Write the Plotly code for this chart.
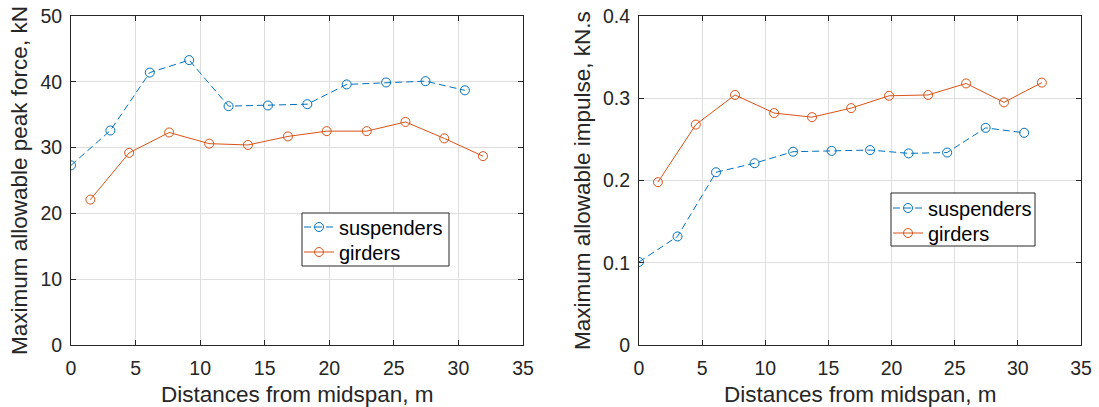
import plotly.graph_objects as go

# Distances from midspan (m) for each member group
dist_suspenders = [0, 3.05, 6.1, 9.15, 12.2, 15.25, 18.3, 21.35, 24.4, 27.45, 30.5]
dist_girders = [1.5, 4.5, 7.6, 10.7, 13.7, 16.8, 19.8, 22.9, 25.9, 28.9, 31.9]

# Maximum allowable peak force, kN
force_suspenders = [27.3, 32.6, 41.4, 43.3, 36.3, 36.4, 36.6, 39.6, 39.9, 40.1, 38.7]
force_girders = [22.1, 29.2, 32.3, 30.6, 30.4, 31.7, 32.5, 32.5, 33.9, 31.4, 28.7]

# Maximum allowable impulse, kN.s
impulse_suspenders = [0.101, 0.132, 0.210, 0.221, 0.235, 0.236, 0.237, 0.233, 0.234, 0.264, 0.258]
impulse_girders = [0.198, 0.268, 0.304, 0.282, 0.277, 0.288, 0.303, 0.304, 0.318, 0.295, 0.319]

x_ticks = [0, 5, 10, 15, 20, 25, 30, 35]
force_ticks = [0, 10, 20, 30, 40, 50]
impulse_ticks = [0, 0.1, 0.2, 0.3, 0.4]

BLUE = "#0072BD"
ORANGE = "#D95319"
AXIS = "#262626"
GRID = "#dedede"
FONT = "Liberation Sans, Arial, sans-serif"

W, H = 1099, 407
left_px = (71, 523)
right_px = (639, 1081)
top_px, bottom_px = 16, 345

# Legend frames (pixel boxes: x0, x1, y_top, y_bottom)
legend_box_left = (302, 449, 213, 266)
legend_box_right = (891, 1035, 193, 246)


def xd(p):
    return (p[0] / W, p[1] / W)


ydom = (1 - bottom_px / H, 1 - top_px / H)

fig = go.Figure()

marker_style = dict(symbol="circle-open", size=9, line=dict(width=1))

fig.add_trace(go.Scatter(
    x=dist_suspenders, y=force_suspenders, name="suspenders",
    mode="lines+markers", xaxis="x", yaxis="y", legend="legend",
    line=dict(color=BLUE, width=1, dash="7px,4px"),
    marker=dict(color=BLUE, **marker_style),
))
fig.add_trace(go.Scatter(
    x=dist_girders, y=force_girders, name="girders",
    mode="lines+markers", xaxis="x", yaxis="y", legend="legend2",
    line=dict(color=ORANGE, width=1),
    marker=dict(color=ORANGE, **marker_style),
))
fig.add_trace(go.Scatter(
    x=dist_suspenders, y=impulse_suspenders, name="suspenders",
    mode="lines+markers", xaxis="x2", yaxis="y2", legend="legend3",
    line=dict(color=BLUE, width=1, dash="7px,4px"),
    marker=dict(color=BLUE, **marker_style),
))
fig.add_trace(go.Scatter(
    x=dist_girders, y=impulse_girders, name="girders",
    mode="lines+markers", xaxis="x2", yaxis="y2", legend="legend4",
    line=dict(color=ORANGE, width=1),
    marker=dict(color=ORANGE, **marker_style),
))

axis_common = dict(
    showline=True, linecolor=AXIS, linewidth=1, mirror="ticks",
    ticks="inside", ticklen=5, tickcolor=AXIS, tickwidth=1,
    showgrid=True, gridcolor=GRID, gridwidth=1, zeroline=False,
    tickfont=dict(family=FONT, size=19.5, color=AXIS),
    fixedrange=True, automargin=False,
)

legend_common = dict(
    xanchor="left", yanchor="middle", bgcolor="rgba(0,0,0,0)", borderwidth=0,
    font=dict(family=FONT, size=20, color="black"),
    itemwidth=30, tracegroupgap=0,
)


def legend_at(box, row_center):
    return dict(x=(box[0] - 3) / W, y=1 - row_center / H, **legend_common)


fig.update_layout(
    template="none",
    width=W, height=H,
    margin=dict(l=0, r=0, t=0, b=0, pad=0, autoexpand=False),
    paper_bgcolor="white", plot_bgcolor="white",
    font=dict(family=FONT, color=AXIS),
    xaxis=dict(domain=xd(left_px), anchor="y", range=[0, 35],
               tickvals=x_ticks, ticklabelstandoff=6, **axis_common),
    yaxis=dict(domain=ydom, anchor="x", range=[0, 50],
               tickvals=force_ticks, ticklabelstandoff=4, **axis_common),
    xaxis2=dict(domain=xd(right_px), anchor="y2", range=[0, 35],
                tickvals=x_ticks, ticklabelstandoff=6, **axis_common),
    yaxis2=dict(domain=ydom, anchor="x2", range=[0, 0.4],
                tickvals=impulse_ticks, tickformat=".1~f",
                ticklabelstandoff=4, **axis_common),
    legend=legend_at(legend_box_left, 227),
    legend2=legend_at(legend_box_left, 252),
    legend3=legend_at(legend_box_right, 208),
    legend4=legend_at(legend_box_right, 233),
    showlegend=True,
)

# Legend frames
for x0, x1, yt, yb in (legend_box_left, legend_box_right):
    fig.add_shape(type="rect", xref="paper", yref="paper",
                  x0=x0 / W, x1=x1 / W, y0=1 - yb / H, y1=1 - yt / H,
                  line=dict(color=AXIS, width=1), fillcolor="white", layer="above")

# Axis titles
title_font = dict(family=FONT, size=22.5, color=AXIS)
for cx in (sum(left_px) / 2, sum(right_px) / 2):
    fig.add_annotation(text="Distances from midspan, m", x=cx / W, y=1 - 394 / H,
                       xref="paper", yref="paper", xanchor="center", yanchor="middle",
                       showarrow=False, font=title_font)
fig.add_annotation(text="Maximum allowable peak force, kN", x=5 / W,
                   y=1 - (top_px + bottom_px) / 2 / H, xref="paper", yref="paper",
                   xanchor="left", yanchor="middle", textangle=-90,
                   showarrow=False, font=title_font)
fig.add_annotation(text="Maximum allowable impulse, kN.s", x=568 / W,
                   y=1 - (top_px + bottom_px) / 2 / H, xref="paper", yref="paper",
                   xanchor="left", yanchor="middle", textangle=-90,
                   showarrow=False, font=title_font)

fig.write_html("out.html")
